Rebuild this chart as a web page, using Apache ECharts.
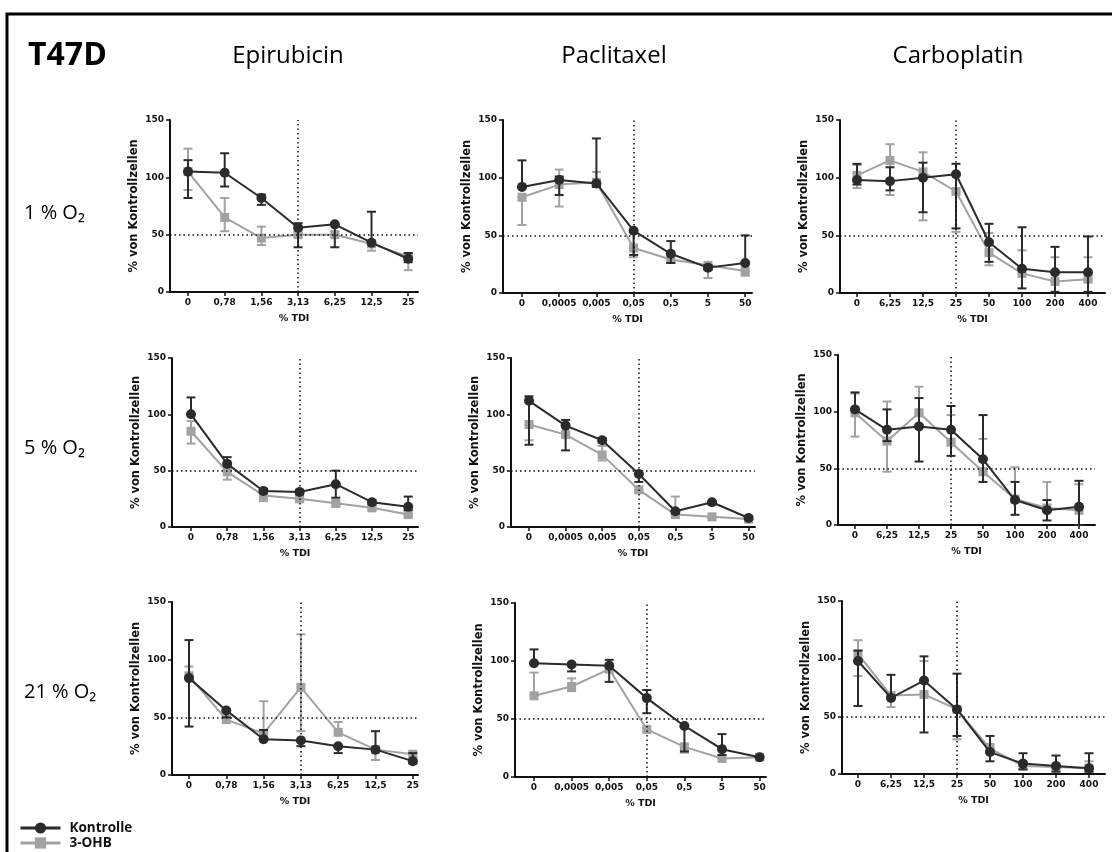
<!DOCTYPE html>
<html>
<head>
<meta charset="utf-8">
<script src="https://cdn.jsdelivr.net/npm/echarts@6/dist/echarts.min.js"></script>
<style>
html, body { margin: 0; background: #fff; }
#chart { width: 1112px; height: 852px; }
</style>
</head>
<body>
<div id="chart"></div>
<script>
const drugs = ['Epirubicin', 'Paclitaxel', 'Carboplatin'];
const oxygen = ['1 % O₂', '5 % O₂', '21 % O₂'];
const epiDoses = ['0', '0,78', '1,56', '3,13', '6,25', '12,5', '25'];
const pacDoses = ['0', '0,0005', '0,005', '0,05', '0,5', '5', '50'];
const carbDoses = ['0', '6,25', '12,5', '25', '50', '100', '200', '400'];
const doseLabels = [epiDoses, pacDoses, carbDoses];

// je Punkt: [Mittelwert, untere Grenze, obere Grenze] in % von Kontrollzellen
const epi1K  = [[105, 82, 115], [104, 92, 121], [82, 76, 85], [56, 39, 60], [59, 39, 59], [43, 43, 70], [29, 26, 34]];
const epi1O  = [[105, 89, 125], [65, 53, 82], [47, 41, 57], [50, 48, 52], [50, 48, 52], [42, 36, 42], [31, 19, 33]];
const pac1K  = [[92, 92, 115], [98, 85, 101], [95, 92, 134], [54, 33, 54], [34, 26, 45], [22, 20, 24], [26, 26, 50]];
const pac1O  = [[83, 59, 83], [94, 75, 107], [96, 92, 105], [39, 31, 39], [29, 27, 30], [24, 13, 24], [19, 15, 19]];
const carb1K = [[98, 94, 112], [97, 89, 109], [100, 70, 113], [103, 56, 112], [44, 27, 60], [21, 4, 57], [18, 1, 40], [18, 1, 49]];
const carb1O = [[102, 91, 111], [115, 85, 129], [105, 63, 122], [88, 53, 88], [35, 24, 52], [17, 17, 37], [10, 10, 31], [12, 12, 31]];

const epi5K  = [[100, 100, 115], [56, 56, 62], [32, 30, 34], [31, 29, 33], [38, 26, 50], [22, 20, 24], [18, 15, 27]];
const epi5O  = [[85, 74, 94], [49, 42, 50], [28, 23, 28], [25, 23, 25], [21, 18, 21], [17, 15, 17], [11, 10, 11]];
const pac5K  = [[112, 73, 116], [90, 68, 95], [77, 75, 79], [47, 40, 47], [14, 12, 14], [22, 20, 23], [8, 7, 9]];
const pac5O  = [[91, 77, 91], [82, 80, 84], [64, 59, 72], [33, 31, 33], [11, 11, 27], [9, 8, 9], [7, 6, 7]];
const carb5K = [[102, 102, 117], [84, 74, 102], [87, 56, 112], [84, 61, 105], [58, 38, 97], [22, 9, 38], [13, 4, 22], [16, 0, 39]];
const carb5O = [[99, 78, 116], [74, 47, 109], [99, 99, 122], [73, 73, 97], [47, 47, 76], [23, 23, 51], [15, 15, 38], [13, 13, 36]];

const epi21K  = [[84, 42, 117], [56, 50, 56], [31, 31, 39], [30, 25, 30], [25, 19, 25], [22, 22, 38], [12, 10, 19]];
const epi21O  = [[86, 86, 94], [48, 48, 48], [36, 36, 64], [76, 38, 122], [37, 37, 46], [22, 13, 22], [18, 18, 18]];
const pac21K  = [[98, 98, 110], [97, 91, 97], [96, 82, 101], [68, 55, 75], [44, 22, 44], [24, 19, 37], [17, 17, 17]];
const pac21O  = [[70, 70, 90], [78, 74, 85], [93, 93, 93], [41, 41, 41], [26, 21, 26], [16, 16, 16], [17, 17, 17]];
const carb21K = [[98, 59, 107], [66, 66, 86], [81, 36, 102], [56, 33, 87], [19, 11, 33], [9, 4, 18], [7, 2, 16], [5, 2, 18]];
const carb21O = [[104, 85, 116], [68, 58, 68], [69, 69, 98], [56, 30, 56], [22, 22, 26], [7, 7, 11], [6, 6, 6], [5, 5, 11]];

const kontrolle = [[epi1K, pac1K, carb1K], [epi5K, pac5K, carb5K], [epi21K, pac21K, carb21K]];
const ohb = [[epi1O, pac1O, carb1O], [epi5O, pac5O, carb5O], [epi21O, pac21O, carb21O]];

// Position der Teilgrafiken: y-Achse, erster Punkt, Punktabstand, oben, unten, Achsenende
const layout = [
    [[170, 188, 36.7, 120, 292, 418], [503, 522, 37.2, 120, 293, 752], [840, 857, 33.0, 120, 293, 1105]],
    [[172, 191, 36.2, 358, 527, 418], [511, 529, 36.6, 358, 527, 755], [838, 855, 32.0, 355, 525, 1095]],
    [[172, 189, 37.3, 602, 775, 418], [515, 534, 37.6, 603, 777, 766], [842, 858, 33.0, 601, 774, 1105]]
];

const DARK = '#2b2b2b';
const GRAY = '#a2a2a2';
const tickFont = { fontFamily: 'DejaVu Sans', fontWeight: 'bold', fontSize: 9, color: '#111' };

function errorBars(name, data, color, gi, z) {
    return {
        type: 'custom',
        name: name,
        xAxisIndex: gi,
        yAxisIndex: gi,
        z: z,
        silent: true,
        data: data.map((d, i) => [i, d[1], d[2]]),
        renderItem: function(params, api) {
            let x = api.value(0);
            let lo = api.coord([x, api.value(1)]);
            let hi = api.coord([x, api.value(2)]);
            if (Math.abs(lo[1] - hi[1]) < 1) return;
            let w = 4.5;
            let style = { stroke: color, lineWidth: 2 };
            return {
                type: 'group',
                children: [
                    { type: 'line', shape: { x1: lo[0], y1: lo[1], x2: hi[0], y2: hi[1] }, style: style },
                    { type: 'line', shape: { x1: lo[0] - w, y1: lo[1], x2: lo[0] + w, y2: lo[1] }, style: style },
                    { type: 'line', shape: { x1: hi[0] - w, y1: hi[1], x2: hi[0] + w, y2: hi[1] }, style: style }
                ]
            };
        }
    };
}

let grids = [], xAxes = [], yAxes = [], series = [];

for (let r = 0; r < 3; r++) {
    for (let c = 0; c < 3; c++) {
        let gi = grids.length;
        let [left, x0, step, top, bottom, end] = layout[r][c];
        let labels = doseLabels[c];
        let idx = labels.map((l, i) => i);

        grids.push({ left: left, top: top, width: end - left, height: bottom - top });

        xAxes.push({
            type: 'value',
            gridIndex: gi,
            min: (left - x0) / step,
            max: (end - x0) / step,
            name: '% TDI',
            nameLocation: 'middle',
            nameGap: 22,
            nameTextStyle: { fontFamily: 'DejaVu Sans', fontWeight: 'bold', fontSize: 9.5, color: '#111' },
            axisLine: { onZero: false, lineStyle: { color: '#111', width: 2 } },
            axisTick: { customValues: idx, length: 4, lineStyle: { color: '#111', width: 1.5 } },
            axisLabel: Object.assign({ customValues: idx, margin: 6, formatter: v => labels[Math.round(v)] }, tickFont),
            splitLine: { show: false }
        });

        yAxes.push({
            type: 'value',
            gridIndex: gi,
            min: 0,
            max: 150,
            interval: 50,
            name: '% von Kontrollzellen',
            nameLocation: 'middle',
            nameGap: 30,
            nameTextStyle: { fontFamily: 'DejaVu Sans', fontWeight: 'bold', fontSize: 11.5, color: '#111' },
            axisLine: { show: true, onZero: false, lineStyle: { color: '#111', width: 2 } },
            axisTick: { show: true, length: 4, lineStyle: { color: '#111', width: 1.5 } },
            axisLabel: Object.assign({ margin: 6 }, tickFont),
            splitLine: { show: false }
        });

        let k = kontrolle[r][c], o = ohb[r][c];

        series.push(errorBars('3-OHB SD', o, GRAY, gi, 2));
        series.push({
            type: 'line', name: '3-OHB', xAxisIndex: gi, yAxisIndex: gi, z: 3,
            data: o.map((d, i) => [i, d[0]]),
            symbol: 'rect', symbolSize: 9,
            itemStyle: { color: GRAY },
            lineStyle: { color: GRAY, width: 2 },
            silent: true, animation: false
        });
        series.push(errorBars('Kontrolle SD', k, DARK, gi, 4));
        series.push({
            type: 'line', name: 'Kontrolle', xAxisIndex: gi, yAxisIndex: gi, z: 5,
            data: k.map((d, i) => [i, d[0]]),
            symbol: 'circle', symbolSize: 10,
            itemStyle: { color: DARK },
            lineStyle: { color: DARK, width: 2 },
            silent: true, animation: false,
            markLine: {
                silent: true, symbol: 'none', animation: false,
                label: { show: false },
                lineStyle: { color: '#111', width: 1.5, type: [1.5, 3] },
                data: [{ yAxis: 50 }, { xAxis: 3 }]
            }
        });
    }
}

let graphics = [
    { type: 'rect', shape: { x: 7, y: 14, width: 1112, height: 900 }, style: { fill: 'none', stroke: '#000', lineWidth: 3 } },
    { type: 'text', x: 28, y: 56, style: { text: 'T47D', fontFamily: 'Open Sans', fontWeight: 'bold', fontSize: 32, fill: '#000', align: 'left', verticalAlign: 'middle' } }
];
const titleX = [288, 614, 958];
drugs.forEach((d, i) => {
    graphics.push({ type: 'text', x: titleX[i], y: 56, style: { text: d, fontFamily: 'Open Sans', fontSize: 24, fill: '#000', align: 'center', verticalAlign: 'middle' } });
});
const rowY = [213, 448, 692];
oxygen.forEach((t, i) => {
    graphics.push({ type: 'text', x: 24, y: rowY[i], style: { text: t, fontFamily: 'Open Sans', fontSize: 20, fill: '#000', align: 'left', verticalAlign: 'middle' } });
});

const legendText = { fontFamily: 'Open Sans', fontWeight: 'bold', fontSize: 13.5, color: '#111', padding: [0, 0, 0, 4] };
const legendItems = ['Kontrolle', '3-OHB'];
const legendY = [816, 831];

let chart = echarts.init(document.getElementById('chart'));
chart.setOption({
    animation: false,
    backgroundColor: '#fff',
    grid: grids,
    xAxis: xAxes,
    yAxis: yAxes,
    series: series,
    legend: legendItems.map((n, i) => ({
        data: [n],
        left: 14,
        top: legendY[i],
        itemWidth: 40,
        itemHeight: 14,
        selectedMode: false,
        lineStyle: { width: 3 },
        textStyle: legendText
    })),
    graphic: graphics
});
</script>
</body>
</html>
